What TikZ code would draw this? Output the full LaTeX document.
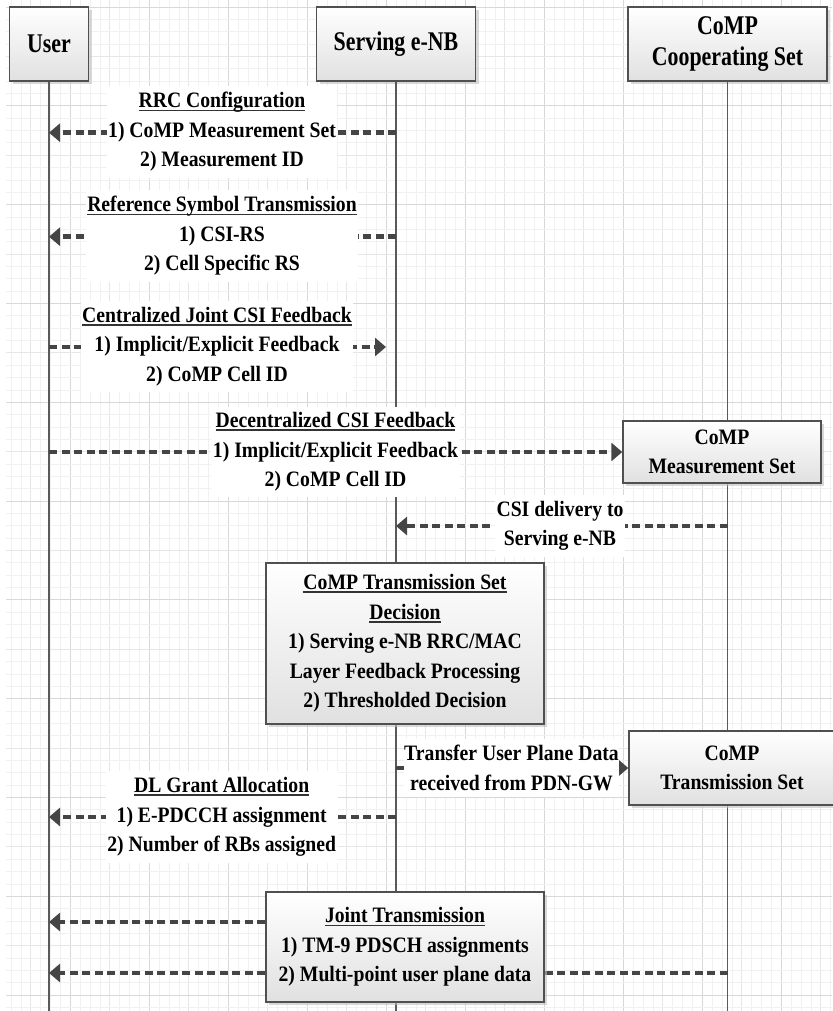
\documentclass[tikz,border=0pt]{standalone}
\usepackage{fontspec}
\usetikzlibrary{arrows.meta,shadows}
\newfontfamily\bodyf{Liberation Serif}[FakeStretch=0.895]
\newfontfamily\headf{Liberation Serif}[FakeStretch=0.81]
\newcommand\ulx[1]{\setbox0=\hbox{#1}\rlap{\color{black!80}\rule[-3.5pt]{\wd0}{1.8pt}}\box0}
\definecolor{linegray}{HTML}{5A5A5A}
\definecolor{arrgray}{HTML}{454545}
\definecolor{boxedge}{HTML}{505050}
\definecolor{gmin}{HTML}{F1F1F1}
\definecolor{gmed}{HTML}{E6E6E6}
\definecolor{gmaj}{HTML}{D8D8D8}
\begin{document}
\begin{tikzpicture}[x=1pt,y=-1pt,
  gridmin/.style={draw=gmin,line width=0.9pt},
  gridmed/.style={draw=gmed,line width=0.9pt},
  gridmaj/.style={draw=gmaj,line width=1pt},
  life/.style={draw=linegray,line width=1.8pt},
  actor/.style={draw=boxedge,line width=1.4pt,top color=white,bottom color=black!12,
    drop shadow={shadow xshift=3pt,shadow yshift=-3pt,fill=black!25,opacity=0.6},
    align=center,inner sep=0pt,font=\headf\bfseries\fontsize{27}{31}\selectfont},
  pbox/.style={draw=boxedge,line width=1.4pt,top color=white,bottom color=black!12,
    drop shadow={shadow xshift=3pt,shadow yshift=-3pt,fill=black!25,opacity=0.6},
    align=center,inner sep=0pt,font=\bodyf\bfseries\fontsize{22}{29.5}\selectfont},
  lbl/.style={fill=white,inner xsep=1.5pt,inner ysep=6pt,align=center,
    font=\bodyf\bfseries\fontsize{22}{29.5}\selectfont},
  msg/.style={draw=arrgray,line width=4.8pt,dash pattern=on 8pt off 4.5pt,
    -{Triangle[length=11pt,width=18pt]}},
]
% page
\path[fill=white] (0,0) rectangle (832,1011);
\useasboundingbox (0,0) rectangle (832,1011);
% grid
\foreach \k in {1,...,84}{
  \pgfmathsetmacro\xx{1.2+9.875*\k}
  \pgfmathtruncatemacro\m{mod(\k,8)}
  \ifnum\m=7 \def\gs{gridmaj}\else\ifnum\m=3 \def\gs{gridmed}\else\def\gs{gridmin}\fi\fi
  \draw[\gs] (\xx,0) -- (\xx,1011);
}
\foreach \j in {0,...,81}{
  \pgfmathsetmacro\yy{7.1+12.35*\j}
  \pgfmathtruncatemacro\m{mod(\j,8)}
  \ifnum\m=0 \def\gs{gridmaj}\else\ifnum\m=4 \def\gs{gridmed}\else\def\gs{gridmin}\fi\fi
  \draw[\gs] (6,\yy) -- (832,\yy);
}
% y levels
\coordinate (bot) at (0,1011);
\coordinate (y1) at (0,132.7);
\coordinate (y2) at (0,236.7);
\coordinate (y3) at (0,347);
\coordinate (y4) at (0,452);
\coordinate (y5) at (0,526);
\coordinate (y6) at (0,768);
\coordinate (y7) at (0,817);
\coordinate (y8) at (0,922);
\coordinate (y9) at (0,973);
% actors
\node[actor,minimum width=79pt,minimum height=74pt] (user) at (49,44) {User};
\node[actor,minimum width=159pt,minimum height=74pt] (sen) at (396,44) {Serving e-NB};
\node[actor,minimum width=199pt,minimum height=74pt] (cs) at (727.5,44) {CoMP\\Cooperating Set};
% lifelines
\draw[life] (user.south) -- (user |- bot);
\draw[life] (sen.south) -- (sen |- bot);
\draw[life] (cs.south) -- (cs |- bot);
% process boxes
\node[pbox,minimum width=198pt,minimum height=62pt] (meas) at (722,452) {CoMP\\Measurement Set};
\node[pbox,minimum width=278pt,minimum height=161pt] (dec) at (405,643.5)
  {\ulx{CoMP Transmission Set}\\\ulx{Decision}\\1) Serving e-NB RRC/MAC\\Layer Feedback Processing\\2) Thresholded Decision};
\node[pbox,minimum width=206pt,minimum height=74pt] (tx) at (732,768) {CoMP\\Transmission Set};
% messages
\coordinate (c3e) at (386,347);
\draw[msg] (sen |- y1) -- (user |- y1);
\draw[msg] (sen |- y2) -- (user |- y2);
\draw[msg] (user |- y3) -- (c3e);
\draw[msg] (user |- y4) -- (meas.west);
\draw[msg] (cs |- y5) -- (sen |- y5);
\draw[msg] (sen |- y6) -- (tx.west);
\draw[msg] (sen |- y7) -- (user |- y7);
\draw[msg] (cs |- y9) -- (user |- y9);
% labels
\node[lbl] (l1) at (222,132) {\ulx{RRC Configuration}\\1) CoMP Measurement Set\\2) Measurement ID};
\node[lbl] (l2) at (222,236) {\ulx{Reference Symbol Transmission}\\1) CSI-RS\\2) Cell Specific RS};
\node[lbl] (l3) at (217,346.5) {\ulx{Centralized Joint CSI Feedback}\\1) Implicit/Explicit Feedback\\2) CoMP Cell ID};
\node[lbl] (l4) at (335.5,452) {\ulx{Decentralized CSI Feedback}\\1) Implicit/Explicit Feedback\\2) CoMP Cell ID};
\node[lbl] (l5) at (560,526) {CSI delivery to\\Serving e-NB};
\node[lbl,inner xsep=0pt] (l6) at (511.5,768) {Transfer User Plane Data\\received from PDN-GW};
\node[lbl] (l7) at (221.7,817) {\ulx{DL Grant Allocation}\\1) E-PDCCH assignment\\2) Number of RBs assigned};
% joint transmission
\node[pbox,minimum width=278pt,minimum height=110pt] (jt) at (405,947)
  {\ulx{Joint Transmission}\\1) TM-9 PDSCH assignments\\2) Multi-point user plane data};
\draw[msg] (jt.west |- y8) -- (user |- y8);
\end{tikzpicture}
\end{document}
